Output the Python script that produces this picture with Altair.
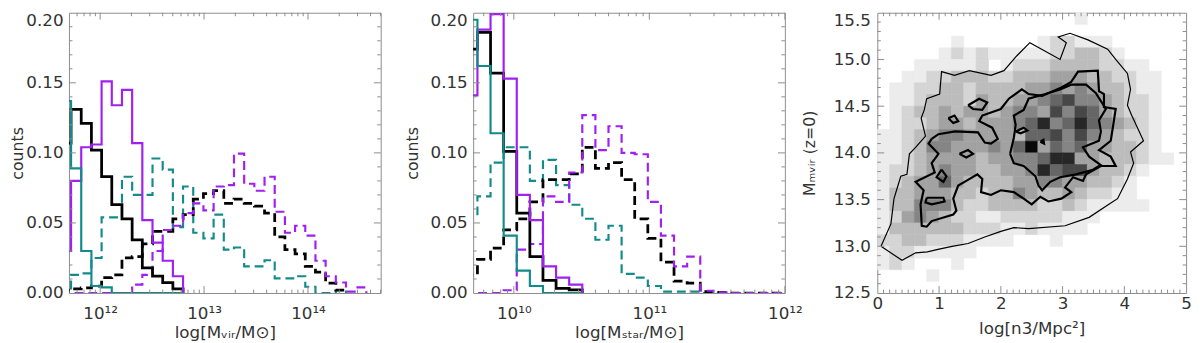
import math
import altair as alt
import pandas as pd

FONT = "DejaVu Sans"
TEXT = "#333333"
FRAME = "#8c8c8c"
PURPLE = "#A020F0"
TEAL = "#148B8B"
BLACK = "#000000"

# ---------------- Panel 1: log(Mvir / Msun) histograms ----------------
P1_BIN_START = 11.622          # left edge of first (partly hidden) bin [dex]
P1_BIN_WIDTH = 0.098           # bin width [dex]
p1_black_solid = [0.107, 0.131, 0.121, 0.102, 0.083, 0.063, 0.053, 0.038, 0.018, 0.012, 0.0075, 0.003]
p1_purple_solid = [0.030, 0.080, 0.104, 0.106, 0.151, 0.134, 0.145, 0.107, 0.052, 0.036, 0.023, 0.012]
p1_teal_solid = [0.137, 0.089, 0.030, 0.005, 0.004, 0.0, 0.0, 0.0, 0.0, 0.0, 0.0, 0.0]
p1_teal_dashed = [0.0, 0.013, 0.014, 0.025, 0.054, 0.054, 0.083, 0.070, 0.070, 0.096, 0.088, 0.047,
                  0.076, 0.043, 0.039, 0.056, 0.031, 0.0325, 0.019, 0.019, 0.0234, 0.0105, 0.0105,
                  0.012, 0.0045, 0.0, 0.0, 0.002]
p1_black_dashed = [0.002, 0.003, 0.0036, 0.005, 0.011, 0.013, 0.025, 0.026, 0.035, 0.044, 0.044, 0.053,
                   0.056, 0.067, 0.071, 0.073, 0.064, 0.067, 0.064, 0.062, 0.057, 0.040, 0.031, 0.028,
                   0.019, 0.015, 0.007, 0.002]
p1_purple_dashed = [0.0, 0.0, 0.0, 0.0, 0.0, 0.0, 0.0, 0.006, 0.013, 0.030, 0.045, 0.048, 0.057, 0.064,
                    0.059, 0.076, 0.077, 0.0995, 0.078, 0.073, 0.083, 0.058, 0.043, 0.048, 0.041, 0.023,
                    0.012, 0.0075, 0.001, 0.004]

# ---------------- Panel 2: log(Mstar / Msun) histograms ----------------
P2_BIN_START = 9.635
P2_BIN_WIDTH = 0.0967
p2_black_solid = [0.174, 0.186, 0.157, 0.101, 0.057, 0.026, 0.009, 0.0034, 0.0023]
p2_purple_solid = [0.141, 0.188, 0.199, 0.153, 0.070, 0.052, 0.019, 0.011, 0.006]
p2_teal_solid = [0.195, 0.162, 0.114, 0.041, 0.016, 0.005, 0.0, 0.0, 0.0]
p2_teal_dashed = [0.055, 0.069, 0.093, 0.104, 0.104, 0.080, 0.095, 0.077, 0.063, 0.053, 0.038, 0.048,
                  0.0137, 0.011, 0.005, 0.001, 0.001, 0.001, 0.0, 0.0, 0.0, 0.0, 0.0, 0.0, 0.0]
p2_black_dashed = [0.013, 0.024, 0.032, 0.045, 0.053, 0.065, 0.081, 0.081, 0.085, 0.104, 0.089, 0.093,
                   0.081, 0.053, 0.039, 0.022, 0.0085, 0.007, 0.001, 0.0005, 0.0, 0.0, 0.0, 0.0, 0.0]
p2_purple_dashed = [0.0, 0.0, 0.0, 0.002, 0.031, 0.035, 0.069, 0.065, 0.086, 0.127, 0.102, 0.119,
                    0.100, 0.099, 0.065, 0.041, 0.019, 0.026, 0.0016, 0.0005, 0.0, 0.0, 0.0, 0.0, 0.0]

# ---------------- Panel 3: 2D histogram (grey levels 0-9) ----------------
N3_CELL = 0.2      # cell width in log[n3/Mpc^2]
M_CELL = 0.125     # cell height in M_mvir
Y3_MIN = 12.5
grid_rows_top_to_bottom = [
    "00000 00000 00000 01000 00000",
    "00000 00000 00000 00000 00000",
    "00000 01000 00012 21110 00000",
    "00000 12121 11112 23321 00000",
    "00011 11120 12223 33322 11000",
    "00112 23332 23334 44332 21100",
    "01122 33233 33445 45433 21100",
    "01123 33243 34456 75543 22100",
    "01233 43443 45547 57643 22100",
    "01223 44344 45685 68654 32100",
    "11234 55444 43667 57543 22100",
    "11235 54445 46946 56443 32100",
    "11234 44434 45568 84433 32110",
    "12234 54433 44586 77433 21000",
    "12344 64333 34455 44332 10000",
    "13344 43323 35433 43221 10000",
    "13355 53223 33322 32111 11000",
    "12454 32211 22222 11100 00000",
    "13333 33222 11211 11000 00000",
    "22332 22111 10001 00000 00000",
    "12211 11100 00000 00000 00000",
    "12100 01000 00000 00000 00000",
    "00001 00000 00000 00000 00000",
    "00000 00000 00000 00000 00000",
]
grey_levels = [0, 1, 2, 3, 4, 5, 6, 7, 8, 9]
grey_colors = ["#ffffff", "#ececec", "#d5d5d5", "#bcbcbc", "#a2a2a2", "#858585",
               "#666666", "#474747", "#272727", "#080808"]

outer_x = [0.06, 0.22, 0.27, 0.38, 0.48, 0.52, 0.62, 0.78, 0.71, 0.76, 0.80, 1.01, 1.04, 1.25, 1.49, 1.84,
           2.05, 2.26, 2.47, 2.96, 3.06, 2.93, 3.12, 3.41, 3.73, 3.86, 4.05, 4.10, 4.05, 4.12, 4.31, 4.10,
           4.15, 4.05, 3.89, 3.75, 3.43, 3.04, 2.45, 2.21, 2.00, 1.74, 1.47, 1.21, 1.00, 0.81, 0.62, 0.40]
outer_y = [13.00, 13.24, 13.51, 13.75, 13.77, 13.99, 14.06, 14.18, 14.37, 14.46, 14.58, 14.63, 14.87, 14.83,
           14.88, 14.83, 14.88, 15.04, 15.18, 15.00, 15.18, 15.24, 15.28, 15.21, 15.11, 15.00, 14.85, 14.68,
           14.51, 14.40, 14.13, 14.01, 13.89, 13.72, 13.51, 13.45, 13.31, 13.22, 13.19, 13.20, 13.16, 13.10,
           13.03, 13.00, 12.97, 12.94, 12.93, 12.85]
mid_x = [0.88, 0.83, 0.99, 0.88, 0.93, 0.62, 0.75, 0.70, 0.72, 0.80, 0.88, 1.23, 1.28, 1.23, 1.31, 1.44,
         1.62, 1.70, 1.68, 1.84, 2.00, 2.21, 2.37, 2.50, 2.64, 2.77, 2.98, 3.14, 3.04, 3.17, 3.33, 3.38,
         3.62, 3.86, 3.78, 3.59, 3.78, 3.83, 3.86, 3.67, 3.67, 3.59, 3.57, 3.25, 3.14, 2.98, 2.67, 2.45,
         2.34, 2.13, 2.00, 1.70, 1.65, 1.86, 1.95, 1.84, 1.74, 1.63, 1.26, 0.99]
mid_y = [14.15, 14.10, 13.99, 13.89, 13.79, 13.69, 13.60, 13.45, 13.22, 13.21, 13.27, 13.34, 13.38, 13.51,
         13.65, 13.70, 13.77, 13.72, 13.58, 13.55, 13.60, 13.58, 13.51, 13.45, 13.53, 13.48, 13.51, 13.58,
         13.63, 13.74, 13.70, 13.77, 13.86, 13.86, 13.96, 14.03, 14.13, 14.34, 14.47, 14.49, 14.63, 14.66,
         14.88, 14.87, 14.76, 14.70, 14.61, 14.63, 14.68, 14.58, 14.47, 14.40, 14.34, 14.27, 14.15, 14.10,
         14.11, 14.22, 14.23, 14.20]
inner_x = [2.15, 2.21, 2.37, 2.56, 2.61, 2.67, 2.80, 2.96, 3.22, 3.49, 3.62, 3.43, 3.33, 3.59, 3.62, 3.59,
           3.70, 3.54, 3.38, 3.14, 2.96, 2.72, 2.45, 2.37, 2.21, 2.24, 2.21]
inner_y = [13.99, 13.89, 13.86, 13.75, 13.65, 13.60, 13.69, 13.74, 13.77, 13.82, 13.87, 13.96, 14.06, 14.13,
           14.23, 14.35, 14.47, 14.64, 14.73, 14.73, 14.68, 14.63, 14.58, 14.46, 14.40, 14.30, 14.16]
island_x = [[1.47, 1.65, 1.78, 1.70, 1.55], [1.15, 1.25, 1.31, 1.23], [1.33, 1.47, 1.55, 1.44],
            [1.04, 1.12, 1.07, 0.96], [0.80, 1.07, 1.09, 0.88, 0.78], [2.24, 2.37, 2.43, 2.32],
            [2.64, 2.69, 2.70]]
island_y = [[14.51, 14.58, 14.54, 14.46, 14.47], [14.37, 14.40, 14.34, 14.32], [13.99, 14.03, 13.99, 13.95],
            [13.82, 13.75, 13.69, 13.74], [13.52, 13.52, 13.48, 13.45, 13.47], [14.23, 14.27, 14.24, 14.21],
            [14.12, 14.14, 14.10]]

# ---------------- helpers ----------------
W1, W2, W3, H = 317, 317, 314, 285
MAJ, MINL = 7, 3.5


def step_frame(values, start, width):
    xs, ys = [], []
    for k, v in enumerate(values):
        xs.append(start + k * width)
        ys.append(v)
    end = start + len(values) * width
    xs += [end, end]
    ys += [values[-1], 0.0]
    return pd.DataFrame({"x": xs, "y": ys, "i": list(range(len(xs)))})


def tick_layers(xmaj, xmin, ymaj, ymin, xs, ys, xax, yax, W):
    out = []
    for vals, L in [(xmaj, MAJ), (xmin, MINL)]:
        base = alt.Chart(pd.DataFrame({"v": vals})).mark_rule(color=FRAME, strokeWidth=1)
        out.append(base.encode(x=alt.X("v:Q", scale=xs, axis=xax), y=alt.value(H), y2=alt.value(H - L)))
        out.append(base.encode(x=alt.X("v:Q", scale=xs, axis=xax), y=alt.value(0), y2=alt.value(L)))
    for vals, L in [(ymaj, MAJ), (ymin, MINL)]:
        base = alt.Chart(pd.DataFrame({"v": vals})).mark_rule(color=FRAME, strokeWidth=1)
        out.append(base.encode(y=alt.Y("v:Q", scale=ys, axis=yax), x=alt.value(0), x2=alt.value(L)))
        out.append(base.encode(y=alt.Y("v:Q", scale=ys, axis=yax), x=alt.value(W), x2=alt.value(W - L)))
    return out


def log_minor(dmin, dmax, lo, hi):
    vals = []
    for d in range(dmin, dmax + 1):
        for m in range(2, 10):
            v = d + math.log10(m)
            if lo < v < hi:
                vals.append(v)
    return vals


def sup_expr(decades):
    sup = {"0": "⁰", "1": "¹", "2": "²", "3": "³", "4": "⁴"}
    expr = "''"
    for d in reversed(decades):
        s = "10" + "".join(sup[c] for c in str(d))
        expr = f"datum.value == {d} ? '{s}' : ({expr})"
    return expr


def axis_common(**kw):
    base = dict(ticks=False, domain=False, grid=False, labelFont=FONT, labelFontSize=17, labelColor=TEXT,
                labelFlush=False, labelOverlap=False, titleFont=FONT, titleFontSize=16,
                titleFontWeight="normal", titleColor=TEXT)
    base.update(kw)
    return alt.Axis(**base)


def top_baseline(vmax):
    return {"condition": {"test": f"datum.value >= {vmax}", "value": "top"}, "value": "middle"}


def hist_panel(series, start, width, xdom, decades, xtitle, ytitle_x, W):
    xs = alt.Scale(domain=xdom, nice=False, zero=False)
    ys = alt.Scale(domain=[0, 0.2], nice=False, zero=False)
    xax = axis_common(values=decades, labelExpr=sup_expr(decades), labelPadding=13, title=xtitle,
                      titleFontSize=17, titleBaseline="middle", titleY=40)
    yax = axis_common(values=[0, 0.05, 0.10, 0.15, 0.20], format=".2f", labelPadding=6, title="counts",
                      labelBaseline=top_baseline(0.199),
                      titleX=ytitle_x, titleY=H / 2, titleBaseline="middle", titleAngle=270)
    layers = []
    for vals, color, sw, dash in series:
        df = step_frame(vals, start, width)
        kw = dict(interpolate="step-after", clip=True, color=color, strokeWidth=sw)
        if dash:
            kw["strokeDash"] = dash
        layers.append(alt.Chart(df).mark_line(**kw).encode(
            x=alt.X("x:Q", scale=xs, axis=xax),
            y=alt.Y("y:Q", scale=ys, axis=yax),
            order="i:Q"))
    ymin = [round(0.01 * k, 2) for k in range(1, 20) if k % 5]
    layers += tick_layers(decades, log_minor(int(xdom[0]) - 1, int(xdom[1]), xdom[0], xdom[1]),
                          [0.05, 0.10, 0.15], ymin, xs, ys, xax, yax, W)
    return alt.layer(*layers).properties(width=W, height=H)


DASH = [9, 5]
panel1 = hist_panel([
    (p1_teal_dashed, TEAL, 2.2, DASH),
    (p1_black_dashed, BLACK, 2.8, DASH),
    (p1_purple_dashed, PURPLE, 2.2, DASH),
    (p1_black_solid, BLACK, 2.8, None),
    (p1_purple_solid, PURPLE, 2.2, None),
    (p1_teal_solid, TEAL, 2.2, None),
], P1_BIN_START, P1_BIN_WIDTH, [11.7, 14.7], [12, 13, 14], "log[Mᵥᵢᵣ/M⊙]", -52, W1)

panel2 = hist_panel([
    (p2_teal_dashed, TEAL, 2.2, DASH),
    (p2_black_dashed, BLACK, 2.8, DASH),
    (p2_purple_dashed, PURPLE, 2.2, DASH),
    (p2_black_solid, BLACK, 2.8, None),
    (p2_purple_solid, PURPLE, 2.2, None),
    (p2_teal_solid, TEAL, 2.2, None),
], P2_BIN_START, P2_BIN_WIDTH, [9.7, 12.0], [10, 11, 12], "log[Mₛₜₐᵣ/M⊙]", -62, W2)

# ----- panel 3 -----
cells = []
nrows = len(grid_rows_top_to_bottom)
for ri, row in enumerate(grid_rows_top_to_bottom):
    r = nrows - 1 - ri
    for c, ch in enumerate(row.replace(" ", "")):
        v = int(ch)
        if v > 0:
            cells.append({"x0": c * N3_CELL, "x1": (c + 1) * N3_CELL,
                          "y0": Y3_MIN + r * M_CELL, "y1": Y3_MIN + (r + 1) * M_CELL, "v": v})
cells_df = pd.DataFrame(cells)

xs3 = alt.Scale(domain=[0, 5], nice=False, zero=False)
ys3 = alt.Scale(domain=[12.5, 15.5], nice=False, zero=False)
xax3 = axis_common(values=[0, 1, 2, 3, 4, 5], format="d", labelPadding=3, title="log[n3/Mpc²]",
                   titleFontSize=17, titleBaseline="middle", titleY=36)
yax3 = axis_common(values=[12.5, 13.0, 13.5, 14.0, 14.5, 15.0, 15.5], format=".1f", labelPadding=7,
                   labelBaseline=top_baseline(15.49),
                   title="Mₘᵥᵢᵣ  (z=0)", titleX=-69, titleY=H / 2, titleBaseline="middle", titleAngle=270)
gray = alt.Scale(domain=grey_levels, range=grey_colors)
heat = alt.Chart(cells_df).mark_rect(strokeWidth=0.6).encode(
    x=alt.X("x0:Q", scale=xs3, axis=xax3), x2="x1:Q",
    y=alt.Y("y0:Q", scale=ys3, axis=yax3), y2="y1:Q",
    color=alt.Color("v:Q", scale=gray, legend=None),
    stroke=alt.Stroke("v:Q", scale=gray, legend=None))


def contour_df(xl, yl, cid):
    xx = list(xl) + [xl[0]]
    yy = list(yl) + [yl[0]]
    return pd.DataFrame({"x": xx, "y": yy, "i": list(range(len(xx))), "id": cid})


thin_df = contour_df(outer_x, outer_y, "outer")
thick_df = pd.concat([contour_df(mid_x, mid_y, "mid"), contour_df(inner_x, inner_y, "inner")] +
                     [contour_df(ix, iy, f"isl{k}") for k, (ix, iy) in enumerate(zip(island_x, island_y))])

thin = alt.Chart(thin_df).mark_line(color=BLACK, strokeWidth=1.2).encode(
    x=alt.X("x:Q", scale=xs3, axis=xax3), y=alt.Y("y:Q", scale=ys3, axis=yax3), order="i:Q", detail="id:N")
thick = alt.Chart(thick_df).mark_line(color=BLACK, strokeWidth=2.2).encode(
    x=alt.X("x:Q", scale=xs3, axis=xax3), y=alt.Y("y:Q", scale=ys3, axis=yax3), order="i:Q", detail="id:N")

x3_minor = [round(0.1 * k, 1) for k in range(1, 50) if k % 10]
y3_minor = [round(12.5 + 0.1 * k, 1) for k in range(1, 30) if k % 5]
panel3 = alt.layer(heat, thin, thick,
                   *tick_layers([1, 2, 3, 4], x3_minor, [13.0, 13.5, 14.0, 14.5, 15.0], y3_minor,
                                xs3, ys3, xax3, yax3, W3)).properties(width=W3, height=H)

chart = alt.hconcat(panel1, panel2, panel3, spacing=94, bounds="flush").properties(
    padding={"left": 1, "top": 0, "right": 0, "bottom": 0},
    background="white",
).configure_view(stroke=FRAME, strokeWidth=1)

chart.save("out.html", embed_options={"renderer": "svg", "actions": False})
